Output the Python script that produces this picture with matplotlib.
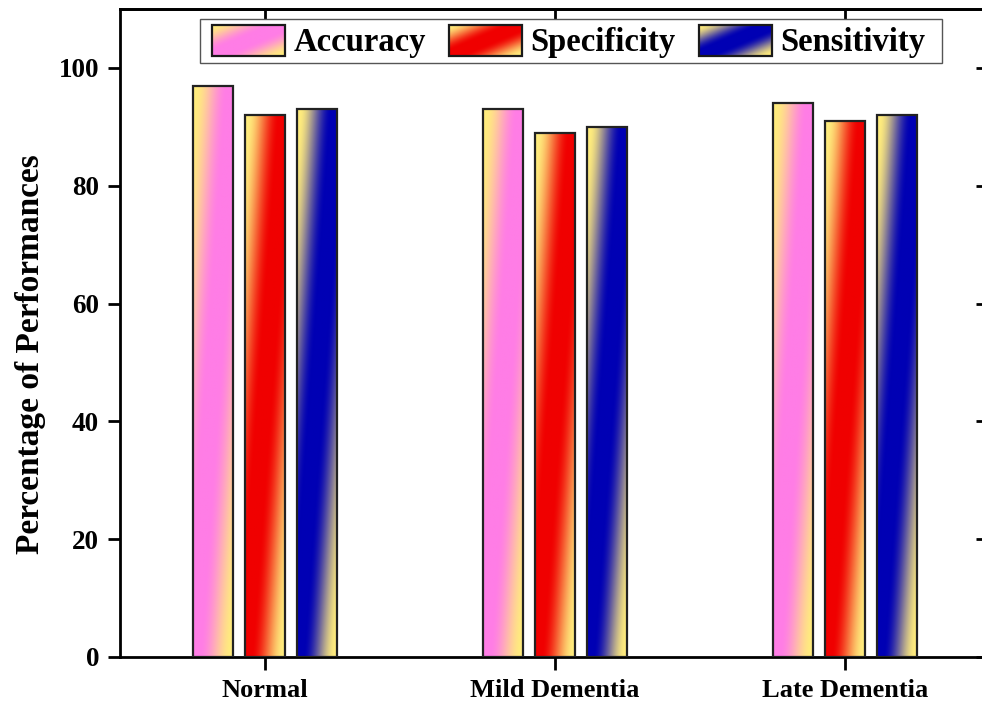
import numpy as np
import matplotlib
matplotlib.use('Agg')
import matplotlib.pyplot as plt
from matplotlib.patches import Rectangle
from matplotlib.image import BboxImage
from matplotlib.transforms import Bbox, TransformedBbox
from matplotlib.legend_handler import HandlerBase

plt.rcParams['font.family'] = ['Liberation Serif', 'DejaVu Serif']
plt.rcParams['font.weight'] = 'bold'

categories = ['Normal', 'Mild Dementia', 'Late Dementia']
series = ['Accuracy', 'Specificity', 'Sensitivity']
accuracy = [97, 93, 94]
specificity = [92, 89, 91]
sensitivity = [93, 90, 92]
y_ticks = [0, 20, 40, 60, 80, 100]

yellow = np.array([255, 236, 125]) / 255.
colors = [np.array([255, 125, 230]) / 255.,
          np.array([240, 0, 0]) / 255.,
          np.array([0, 0, 180]) / 255.]


def gradient(color, nx, ny):
    # yellow in the top-left and bottom-right corners, colour along the other diagonal
    u = np.linspace(0, 1, nx)[None, :]
    v = np.linspace(0, 1, ny)[:, None]   # 0 = top row
    g = 1 - np.abs(u + v - 1)
    s = np.clip((g - 0.05) / 0.8, 0, 1)
    f = s * s * (3 - 2 * s)
    f = f[:, :, None]
    return yellow * (1 - f) + color * f


class GradHandler(HandlerBase):
    def __init__(self, color):
        HandlerBase.__init__(self)
        self.color = color

    def create_artists(self, legend, orig_handle, xdescent, ydescent,
                       width, height, fontsize, trans):
        bb = TransformedBbox(Bbox.from_bounds(-xdescent, -ydescent, width, height), trans)
        im = BboxImage(bb, interpolation='bilinear', origin='upper')
        im.set_data(gradient(self.color, 80, 40))
        rect = Rectangle((-xdescent, -ydescent), width, height, facecolor='none',
                         edgecolor='#1a1a1a', lw=1.6, transform=trans)
        return [im, rect]


fig = plt.figure(figsize=(9.82, 7.08), dpi=100)
ax = fig.add_axes([120/982., 51/708., 870/982., 648/708.])

x = np.arange(1, len(categories) + 1)
width = 0.138
offsets = [-0.18, 0.0, 0.18]
values = [accuracy, specificity, sensitivity]

handles = []
for vals, off, col, name in zip(values, offsets, colors, series):
    bars = ax.bar(x + off, vals, width, facecolor='none', edgecolor='#222222',
                  lw=1.6, zorder=3, label=name)
    for b in bars:
        x0 = b.get_x()
        h = b.get_height()
        ax.imshow(gradient(col, 40, 300), extent=[x0, x0 + width, 0, h],
                  aspect='auto', interpolation='bilinear', zorder=2, origin='upper')
    handles.append(bars)

ax.set_xlim(0.5, 3.5)
ax.set_ylim(0, 110)

ax.set_xticks(x)
ax.set_xticklabels(categories, fontsize=19, fontweight='bold')
ax.set_yticks(y_ticks)
ax.set_yticklabels([str(t) for t in y_ticks], fontsize=19.5, fontweight='bold')
ax.tick_params(axis='x', direction='out', length=9, width=2, pad=7, top=False)
ax.tick_params(axis='y', direction='out', length=8.6, width=2, pad=6.5)

for s in ax.spines.values():
    s.set_linewidth(2)

# mirrored ticks on top and right, pointing in
ax_top = ax.secondary_xaxis('top')
ax_top.set_xticks(x)
ax_top.set_xticklabels([])
ax_top.tick_params(direction='in', length=9, width=2)
ax_top.spines['top'].set_linewidth(2)
ax_right = ax.secondary_yaxis('right')
ax_right.set_yticks(y_ticks)
ax_right.set_yticklabels([])
ax_right.tick_params(direction='in', length=10, width=2)
ax_right.spines['right'].set_linewidth(2)

ax.set_ylabel('Percentage of Performances', fontsize=24, fontweight='bold')
ax.yaxis.set_label_coords(-0.085, 0.468)

# legend box drawn by hand so the side padding can differ from the top padding
box = Rectangle((200/982., 1 - 63/708.), 742/982., 44/708., transform=fig.transFigure,
                facecolor='white', edgecolor='#555555', lw=1.0, zorder=4, clip_on=False)
ax.add_patch(box)
leg = ax.legend(handles, series, ncol=3, loc='center left',
                bbox_to_anchor=(212/982., 1 - 41.5/708.), bbox_transform=fig.transFigure,
                borderaxespad=0, fontsize=23.5, handlelength=2.25, handleheight=1.1,
                handletextpad=0.25, columnspacing=0.7, borderpad=0,
                frameon=False,
                handler_map={h: GradHandler(c) for h, c in zip(handles, colors)})
leg.set_zorder(5)
for t in leg.get_texts():
    t.set_fontweight('bold')

fig.savefig('out.png', dpi=100)
